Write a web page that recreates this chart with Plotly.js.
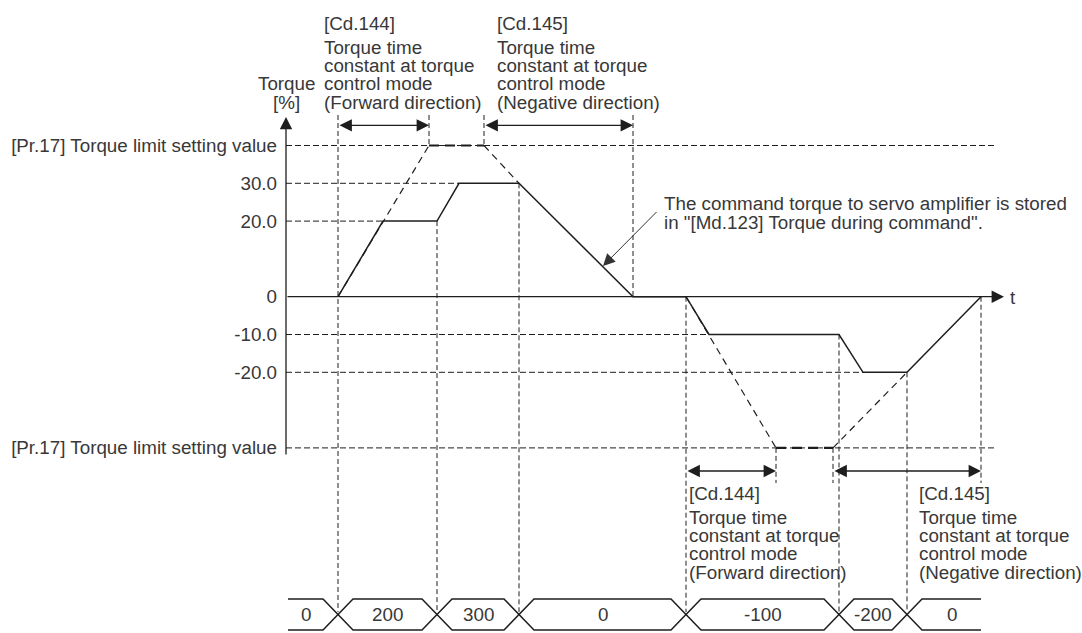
<!DOCTYPE html>
<html><head><meta charset="utf-8">
<script src="https://cdn.plot.ly/plotly-3.0.1.min.js"></script>
<style>html,body{margin:0;padding:0;background:#fff}#chart{width:1082px;height:633px}</style>
</head><body><div id="chart"></div>
<script>
// ---------------- data ----------------
// torque command curve: time (t-axis units) and torque [%]
const curveT = [52, 97, 151, 173, 233, 347, 400, 423, 553, 577, 621, 695];
const curveV = [0, 20, 20, 30, 30, 0, 0, -10, -10, -20, -20, 0];
// dashed projection to the torque limit (time constant reference)
const fwdProjT = [52, 143, 198, 233];
const fwdProjV = [0, 40, 40, 30];
const negProjT = [400, 490, 547, 621];
const negProjV = [0, -40, -40, -20];
// level (tick) values and labels
const levelValues = [40, 30, 20, 0, -10, -20, -40];
const levelLabels = ['[Pr.17] Torque limit setting value', '30.0', '20.0', '0', '-10.0', '-20.0', '[Pr.17] Torque limit setting value'];
// [Cd.143] command torque timeline
const cmdChangeT = [52, 151, 233, 400, 553, 621];
const cmdLabels = ['0', '200', '300', '0', '-100', '-200', '0'];
const busStartT = 2, busEndT = 695;

// ---------------- layout helpers ----------------
const AXIS_PX = 286, ZERO_PX = 296.7, PX_PER_PCT = 3.78;
const X = px => px - AXIS_PX;
const Y = py => (ZERO_PX - py) / PX_PER_PCT;
const FONT = 'Liberation Sans, Arial, sans-serif';
const FS = 18.8;
const TXT = '#383838';
const INK = '#1e1e1e';
const BUS_HALF = 15;
const tEnd = X(995);

const traces = [];
// main command torque curve
traces.push({x: curveT, y: curveV, mode: 'lines', line: {color: INK, width: 1.5}, hoverinfo: 'skip'});
// projections
function projTraces(T, V) {
  for (let i = 0; i < T.length - 1; i++) {
    const flat = V[i] === V[i + 1];
    traces.push({x: [T[i], T[i + 1]], y: [V[i], V[i + 1]], mode: 'lines', hoverinfo: 'skip',
      line: {color: INK, width: flat ? 2.2 : 1.2, dash: flat ? '10px,6px' : '7px,5px'}});
  }
}
projTraces(fwdProjT, fwdProjV);
projTraces(negProjT, negProjV);

// bus timeline (two zig-zag paths forming hexagons)
function busPath(startLevel) {
  const xs = [busStartT], ys = [startLevel];
  let lvl = startLevel;
  cmdChangeT.forEach(t => {
    xs.push(t - BUS_HALF); ys.push(lvl);
    lvl = -lvl;
    xs.push(t + BUS_HALF); ys.push(lvl);
  });
  xs.push(busEndT); ys.push(lvl);
  return {x: xs, y: ys, yaxis: 'y2', mode: 'lines', line: {color: INK, width: 1.5}, hoverinfo: 'skip'};
}
traces.push(busPath(1));
traces.push(busPath(-1));

// ---------------- guides (shapes) ----------------
const shapes = [];
const vd = (x, y0, y1) => shapes.push({type: 'line', xref: 'x', yref: 'y', x0: x, x1: x, y0: y0, y1: y1,
  line: {color: INK, width: 1, dash: '5px,3px'}});
const hd = (y, x1) => shapes.push({type: 'line', xref: 'x', yref: 'y', x0: 0, x1: x1, y0: y, y1: y,
  line: {color: INK, width: 1, dash: '6px,3px'}});
const topY = Y(115), busY = Y(612), lowY = Y(483);
vd(curveT[0], topY, busY);
vd(fwdProjT[1], topY, fwdProjV[1]);
vd(fwdProjT[2], topY, fwdProjV[2]);
vd(curveT[2], curveV[2], busY);
vd(curveT[4], curveV[4], busY);
vd(curveT[5], topY, curveV[5]);
vd(curveT[6], curveV[6], busY);
vd(negProjT[1], negProjV[1], lowY);
vd(negProjT[2], negProjV[2], lowY);
vd(curveT[8], curveV[8], busY);
vd(curveT[10], curveV[10], busY);
vd(curveT[11], curveV[11], lowY);
hd(levelValues[0], tEnd);
hd(levelValues[6], tEnd);
hd(curveV[3], curveT[3]);
hd(curveV[1], curveT[1]);
hd(curveV[7], curveT[7]);
hd(curveV[9], curveT[9]);

// ---------------- annotations ----------------
const ann = [];
const txt = (text, x, y, xanchor) => ann.push({text: text, x: x, y: y, xref: 'x', yref: 'y', xanchor: xanchor || 'left',
  yanchor: 'middle', showarrow: false, font: {family: FONT, size: FS, color: TXT}});
const arrow = (x, y, ax, ay, both, opts) => ann.push(Object.assign({text: '', x: x, y: y, ax: ax, ay: ay, axref: 'x', ayref: 'y',
  xref: 'x', yref: 'y', showarrow: true, arrowhead: 2, arrowsize: 1.9, arrowwidth: 1.3, arrowcolor: INK,
  arrowside: both ? 'end+start' : 'end', startarrowhead: 2, startarrowsize: 1.9}, opts || {}));

// axes
arrow(0, Y(117), 0, Y(456), false, {arrowsize: 1.9});
arrow(X(1004), 0, 0, 0, false, {arrowsize: 1.9});
txt('t', X(1008), Y(297));
txt('Torque', 0, Y(83), 'center');
txt('[%]', 0, Y(102), 'center');

// time-constant dimension arrows
const dimTop = Y(125.3), dimLow = Y(471);
arrow(fwdProjT[1], dimTop, fwdProjT[0], dimTop, true);
arrow(curveT[5], dimTop, fwdProjT[2], dimTop, true);
arrow(negProjT[1], dimLow, negProjT[0], dimLow, true);
arrow(curveT[11], dimLow, negProjT[2], dimLow, true);

// text blocks
const offs = [0, 23.5, 42.2, 60, 78.8];
function block(xpx, ypx, head, dir) {
  const lines = [head, 'Torque time', 'constant at torque', 'control mode', dir];
  lines.forEach((l, i) => txt(l, X(xpx), Y(ypx + offs[i])));
}
block(322, 23.5, '[Cd.144]', '(Forward direction)');
block(495, 23.5, '[Cd.145]', '(Negative direction)');
block(687, 493.5, '[Cd.144]', '(Forward direction)');
block(917, 493.5, '[Cd.145]', '(Negative direction)');

// callout
txt('The command torque to servo amplifier is stored', X(662), Y(203));
txt('in "[Md.123] Torque during command".', X(662), Y(222));
arrow(X(603), Y(266), X(658), Y(210.5), false, {arrowwidth: 1, arrowsize: 2.4, arrowcolor: '#333'});

// bottom-left timeline label
txt('[Cd.143] Command torque at', X(248), Y(605), 'right');
txt('torque control mode', X(248), Y(624), 'right');

// bus labels centered on flat part of each segment
const bounds = [busStartT].concat(cmdChangeT).concat([busEndT]);
cmdLabels.forEach((lab, i) => {
  const a = i === 0 ? bounds[0] : bounds[i] + BUS_HALF;
  const b = i === cmdLabels.length - 1 ? bounds[i + 1] : bounds[i + 1] - BUS_HALF;
  ann.push({text: lab, x: (a + b) / 2, y: 0, xref: 'x', yref: 'y2', xanchor: 'center', yanchor: 'middle',
    showarrow: false, font: {family: FONT, size: FS, color: TXT}});
});

const layout = {
  width: 1082, height: 633,
  margin: {l: AXIS_PX, r: 0, t: 0, b: 0, pad: 0},
  paper_bgcolor: '#fff', plot_bgcolor: '#fff',
  showlegend: false,
  xaxis: {range: [0, 1082 - AXIS_PX], visible: false, fixedrange: true},
  yaxis: {range: [Y(633), Y(0)], showgrid: false, zeroline: false, showline: false, ticks: '',
    tickmode: 'array', tickvals: levelValues, ticktext: levelLabels, ticklabelstandoff: 8,
    tickfont: {family: FONT, size: FS, color: TXT}, fixedrange: true},
  yaxis2: {range: [-(633 - 614.5) / 15.5, 614.5 / 15.5], overlaying: 'y', visible: false, fixedrange: true},
  shapes: shapes,
  annotations: ann
};
Plotly.newPlot('chart', traces, layout, {staticPlot: true, displayModeBar: false});
</script></body></html>
